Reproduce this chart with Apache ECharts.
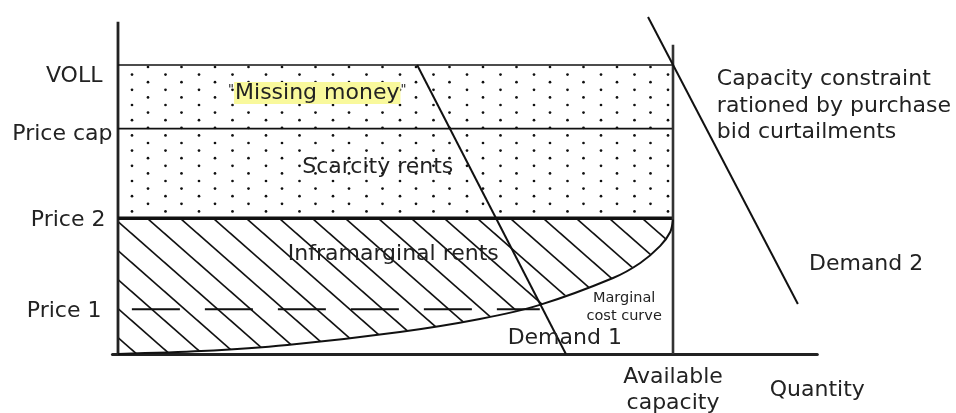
<!DOCTYPE html>
<html><head><meta charset="utf-8">
<script src="https://cdn.jsdelivr.net/npm/echarts@6/dist/echarts.min.js"></script>
<style>html,body{margin:0;padding:0;background:#fff}#c{width:956px;height:413px}</style>
</head><body><div id="c"></div>
<script>
// ---------------- data ----------------
const priceLabels = ['VOLL', 'Price cap', 'Price 2', 'Price 1'];
const priceValues = [100, 78, 47, 15.5];
const capacity = 100;
const capacityLineTop = 107;
const priceAxisTop = 115;
const mcQuantity = [0, 15, 30.5, 50.8, 65.2, 76, 89.2, 94.1, 97.7, 99.5, 100];
const mcPrice    = [0, 1, 3.1, 7.6, 12.1, 17, 26.3, 31.5, 37.4, 42.2, 46.5];
const demand1Quantity = [53.9, 80.7];
const demand1Price    = [100, 0];
const demand2Quantity = [95.5, 122.5];
const demand2Price    = [116.6, 17.3];
const price1Quantity  = [2.5, 76];
const xAxisLabels = ['Available\ncapacity', 'Quantity'];
const xAxisLabelValues = [100, 126];

// ---------------- layout / style ----------------
const XMIN = -1, XMAX = 126, YMIN = 0, YMAX = 118;
const XS = 5.55, YS = 2.89, X0 = 118, Y0 = 354;
const FONT = 'DejaVu Sans';
const TXT = '#222';
const TEXT_SHIFT = 1;

function dotPattern() {
  const c = document.createElement('canvas'); c.width = 67; c.height = 76;
  const g = c.getContext('2d'); g.fillStyle = '#111';
  for (let k = 0; k < 10; k++) {
    const y = (67 + 7.6 * k) % 76;
    const x0 = k % 2 === 0 ? 14 : 31.5;
    for (const bx of [x0, x0 + 33.5]) for (const dx of [-67, 0, 67]) for (const dy of [-76, 0, 76]) {
      g.beginPath(); g.arc(bx + dx, y + dy, 1.35, 0, Math.PI * 2); g.fill();
    }
  }
  return c;
}
function hatchPattern() {
  const w = 33, h = 29, c = document.createElement('canvas'); c.width = w; c.height = h;
  const g = c.getContext('2d'); g.strokeStyle = '#111'; g.lineWidth = 1.6;
  const s = h / w, off = 1.94;
  for (const k of [-1, 0, 1]) {
    g.beginPath();
    g.moveTo(-5, -5 * s + off + h * k);
    g.lineTo(w + 5, (w + 5) * s + off + h * k);
    g.stroke();
  }
  return c;
}
const dots = dotPattern(), hatch = hatchPattern();

const zip = (a, b) => a.map((v, i) => [v, b[i]]);
const lineS = (data, width, extra) => Object.assign({
  type: 'line', data, symbol: 'none', silent: true, z: 3, clip: false,
  lineStyle: { color: '#111', width }
}, extra || {});

const chart = echarts.init(document.getElementById('c'), null, { renderer: 'canvas' });

const yRich = {
  r0: { padding: [22, 10, 0, 0] },
  r1: { padding: [11, 0, 0, 0] },
  r2: { padding: [4, 7, 0, 0] },
  r3: { padding: [4, 11, 0, 0] }
};

const annotations = [
  { pos: [35.9, 90.7], text: '{q|"}{h|Missing money}{q|"}', align: 'center',
    rich: { q: { fontSize: 13, fontFamily: FONT, color: TXT, padding: [0, 0, 6, 0] },
            h: { fontSize: 22, fontFamily: FONT, color: TXT, backgroundColor: '#f9f99c', lineHeight: 23, padding: [0, 1] } } },
  { pos: [46.8, 65.1], text: 'Scarcity rents', align: 'center' },
  { pos: [49.6, 34.9], text: 'Inframarginal rents', align: 'center' },
  { pos: [91.2, 16.6], text: 'Marginal\ncost curve', align: 'center', fontSize: 14.5, lineHeight: 18 },
  { pos: [80.5, 5.9], text: 'Demand 1', align: 'center' },
  { pos: [124.5, 31.5], text: 'Demand 2', align: 'left' },
  { pos: [107.9, 86.2], text: 'Capacity constraint\nrationed by purchase\nbid curtailments', align: 'left', lineHeight: 26.5 }
];

const option = {
  animation: false,
  backgroundColor: '#fff',
  grid: { left: X0 + XMIN * XS, width: (XMAX - XMIN) * XS, top: Y0 - YMAX * YS, height: (YMAX - YMIN) * YS,
          outerBoundsMode: 'none', containLabel: false },
  xAxis: {
    type: 'value', min: XMIN, max: XMAX,
    axisLine: { show: true, onZero: false, lineStyle: { color: '#222', width: 3 } },
    axisTick: { show: false }, splitLine: { show: false },
    axisLabel: {
      customValues: xAxisLabelValues,
      formatter: v => xAxisLabels[xAxisLabelValues.indexOf(v)] || '',
      fontFamily: FONT, fontSize: 22, color: TXT, lineHeight: 25.5,
      verticalAlign: 'middle', margin: 36.5, showMinLabel: true, showMaxLabel: true
    }
  },
  yAxis: {
    type: 'value', min: YMIN, max: YMAX,
    axisLine: { show: false }, axisTick: { show: false }, splitLine: { show: false },
    axisLabel: {
      customValues: priceValues,
      formatter: v => { const i = priceValues.indexOf(v); return i < 0 ? '' : '{r' + i + '|' + priceLabels[i] + '}'; },
      fontFamily: FONT, fontSize: 22, color: TXT, margin: 0, align: 'right',
      rich: Object.fromEntries(Object.entries(yRich).map(([k, v]) => [k, Object.assign({ fontFamily: FONT, fontSize: 22, color: TXT }, v)]))
    }
  },
  series: [
    // dotted rent area (Price 2 .. VOLL)
    { type: 'custom', silent: true, z: 1, data: [[0, 0]],
      renderItem: (p, api) => {
        const pts = [[0, priceValues[2]], [capacity, priceValues[2]], [capacity, priceValues[0]], [0, priceValues[0]]].map(d => api.coord(d));
        return { type: 'polygon', shape: { points: pts }, style: { fill: { image: dots, repeat: 'repeat' } } };
      } },
    // hatched inframarginal area (MC curve .. Price 2)
    { type: 'custom', silent: true, z: 1, data: [[0, 0]],
      renderItem: (p, api) => {
        const pts = zip(mcQuantity, mcPrice).map(d => api.coord(d));
        pts.push(api.coord([capacity, priceValues[2]]));
        pts.push(api.coord([0, priceValues[2]]));
        return { type: 'polygon', shape: { points: pts }, style: { fill: { image: hatch, repeat: 'repeat' } } };
      } },
    // price axis line
    lineS([[0, 0], [0, priceAxisTop]], 2.8, { lineStyle: { color: '#222', width: 2.8 } }),
    // VOLL, Price cap, Price 2
    lineS([[0, priceValues[0]], [capacity, priceValues[0]]], 1.6),
    lineS([[0, priceValues[1]], [capacity, priceValues[1]]], 1.6),
    lineS([[0, priceValues[2]], [capacity, priceValues[2]]], 3.5),
    // Price 1 dashed
    lineS(zip(price1Quantity, [priceValues[3], priceValues[3]]), 2, { lineStyle: { color: '#111', width: 2, type: [48, 25] } }),
    // available capacity
    lineS([[capacity, 0], [capacity, capacityLineTop]], 2.6, { lineStyle: { color: '#333', width: 2.6 } }),
    // marginal cost curve
    lineS(zip(mcQuantity, mcPrice), 2, { smooth: 0.3 }),
    // demand curves
    lineS(zip(demand1Quantity, demand1Price), 2),
    lineS(zip(demand2Quantity, demand2Price), 2),
    // annotations
    { type: 'scatter', symbolSize: 0, silent: true, z: 5, clip: false,
      itemStyle: { opacity: 1 },
      data: annotations.map(a => ({
        value: a.pos,
        label: {
          show: true, position: 'inside', formatter: a.text, align: a.align, verticalAlign: 'middle',
          offset: [0, TEXT_SHIFT],
          fontFamily: FONT, fontSize: a.fontSize || 22, lineHeight: a.lineHeight || 26, color: TXT,
          rich: a.rich
        }
      })) }
  ]
};
chart.setOption(option);
</script>
</body></html>
